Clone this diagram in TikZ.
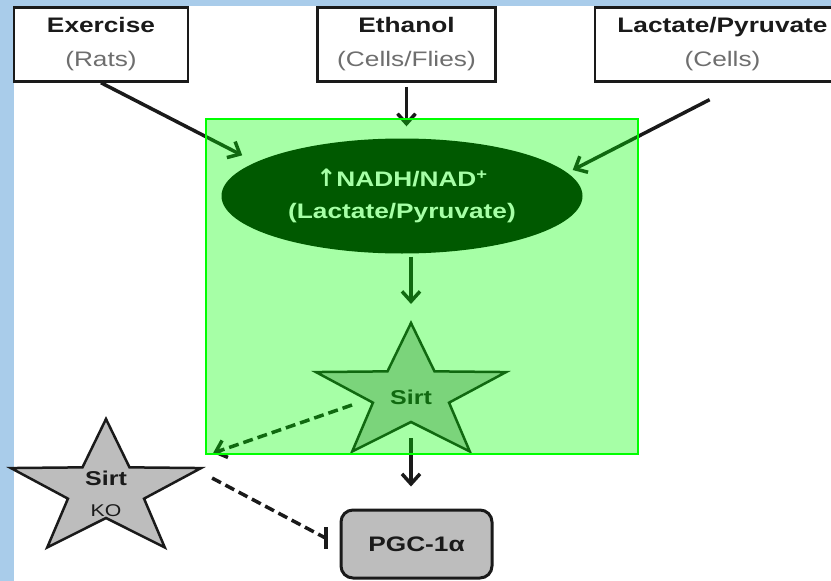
\documentclass[tikz,border=0pt]{standalone}
\usepackage{fontspec}
\setmainfont{Liberation Sans}[FakeStretch=1.25]
\newfontfamily\arrowfont{DejaVu Sans}
\usetikzlibrary{arrows.meta, positioning, shapes.geometric, calc}
\definecolor{SlideBlue}{HTML}{A9CCEA}
\definecolor{Ink}{HTML}{1A1A1A}
\definecolor{SubGray}{HTML}{6E6E6E}
\definecolor{StarGray}{HTML}{BDBDBD}
\tikzset{
  srcbox/.style={rectangle, draw=Ink, fill=white, line width=2.5pt,
                 minimum width=#1, minimum height=74pt, inner sep=0pt,
                 font=\fontsize{21}{34}\selectfont, text=Ink, align=center},
  nadhell/.style={ellipse, fill=black, minimum width=361pt, minimum height=115pt,
                 inner sep=0pt, font=\bfseries\fontsize{21}{32}\selectfont,
                 text=white, align=center},
  pgcbox/.style={rectangle, rounded corners=12pt, draw=Ink, fill=StarGray,
                 line width=3pt, minimum width=151pt, minimum height=68pt,
                 font=\bfseries\fontsize{21}{25}\selectfont, text=Ink},
  starlbl/.style={inner sep=0pt, font=\bfseries\fontsize{20}{31}\selectfont,
                 text=Ink, align=center},
  hilite/.style={rectangle, draw=green, line width=2.5pt, fill=green,
                 fill opacity=0.35, draw opacity=1, inner sep=0pt},
  flatstar/.pic={
    \path[pic actions] (-90:100 and 71)
      \foreach \a in {0,72,...,288}{ -- ({\a-54}:40 and 28) -- ({\a-18}:100 and 71) } -- cycle;
    \coordinate (-c) at (0,0);
    \coordinate (-top) at (-90:100 and 71);
    \coordinate (-right) at (-18:100 and 71);
  },
}

\begin{document}
\begin{tikzpicture}[
    x=1pt, y=-1pt,
    arr/.style={-{Straight Barb[length=10pt,width=18pt]}, line width=3.5pt, draw=Ink},
    brk/.style={dash pattern=on 10pt off 5pt},
    inhbar/.style={line width=4pt, draw=Ink}
  ]
  \useasboundingbox (0,0) rectangle (831,581);
  \fill[SlideBlue] (0,0) rectangle (831,581);
  \fill[white] (14,6) rectangle (831,581);

  % sources
  \node[srcbox=174pt] (exer) at (101,44.5) {\textbf{Exercise}\\{\color{SubGray}(Rats)}};
  \node[srcbox=178pt, right=127pt of exer] (eth) {\textbf{Ethanol}\\{\color{SubGray}(Cells/Flies)}};
  \node[srcbox=255pt, right=97pt of eth] (lacpyr) {\textbf{Lactate/Pyruvate}\\{\color{SubGray}(Cells)}};

  \node[nadhell] (nadh) at (402,196) {{\arrowfont\bfseries\fontsize{24}{24}\selectfont ↑}NADH/NAD\textsuperscript{+}\\(Lactate/Pyruvate)};

  \pic[draw=Ink, fill=StarGray, line width=2.5pt, line join=miter] (gstar) at (411,394) {flatstar};
  \node[starlbl] (sirt) at ($(gstar-c)+(0,3)$) {Sirt};
  \pic[draw=Ink, fill=StarGray, line width=2.5pt, line join=miter] (kostar) at (106,490) {flatstar};
  \node[starlbl] (sirtko) at ($(kostar-c)+(0,4)$) {Sirt\\{\fontsize{17}{17}\selectfont\mdseries KO}};

  \node[pgcbox] (pgc) at (416.5,544) {PGC-1α};

  \draw[arr, shorten >=15pt] (exer.south) -- (nadh.167);
  \draw[arr, shorten <=4pt, shorten >=12pt] (eth.south) -- (eth.south |- nadh.north);
  \draw[arr, shorten <=37pt, shorten >=6pt] ([xshift=20pt]lacpyr.south) -- (nadh.8);
  \draw[arr, shorten <=3pt, shorten >=19pt] (nadh.south -| gstar-c) -- (gstar-top);
  \draw[arr, shorten <=44pt, shorten >=22pt] (gstar-c) -- (pgc.north -| gstar-c);

  % knock-out branch
  \draw[arr, brk] ($(gstar-c)+(-59,11)$) -- ($(kostar-right)+(12,-15)$);
  \coordinate (kobar) at ($(pgc.west)+(-14,-6)$);
  \draw[line width=3.5pt, draw=Ink, brk] ($(kostar-right)+(11,10)$) -- (kobar);
  \draw[inhbar] ([yshift=11pt]kobar) -- ([yshift=-11pt]kobar);

  % highlighted region
  \node[hilite, minimum width=432pt, minimum height=335pt] (zone) at (422,286.5) {};
\end{tikzpicture}
\end{document}
